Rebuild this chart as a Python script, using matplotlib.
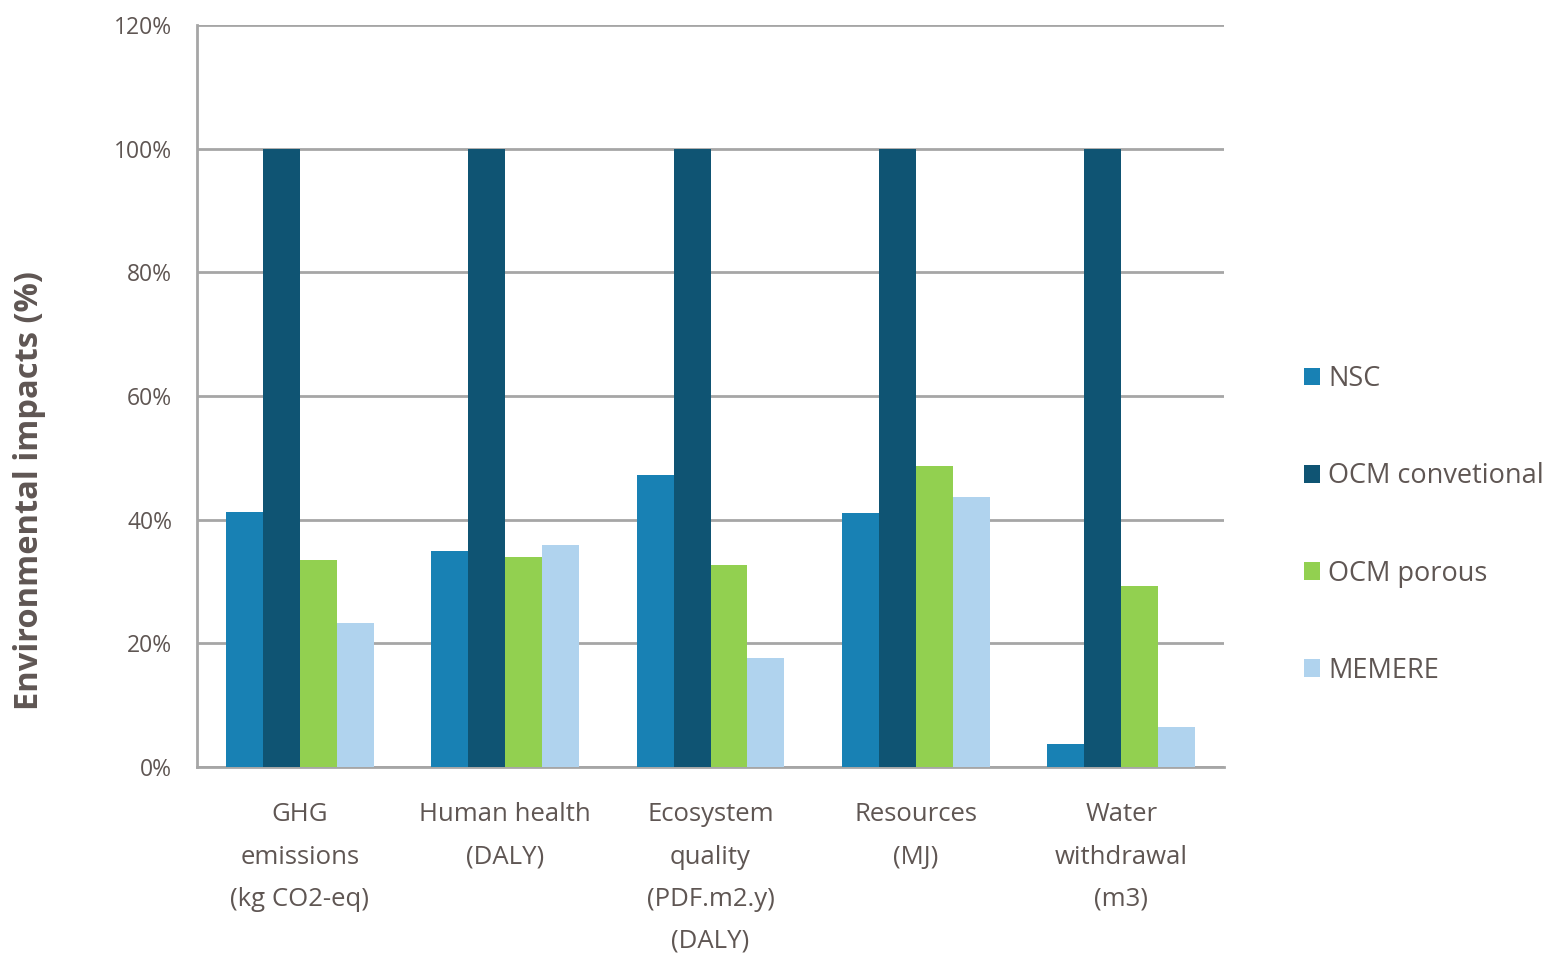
import numpy as np
import matplotlib.pyplot as plt
from matplotlib.ticker import FuncFormatter

categories = ["GHG\nemissions\n(kg CO2-eq)", "Human health\n(DALY)",
              "Ecosystem\nquality\n(PDF.m2.y)\n(DALY)", "Resources\n(MJ)",
              "Water\nwithdrawal\n(m3)"]
series = ["NSC", "OCM convetional", "OCM porous", "MEMERE"]
nsc = [41.3, 35.0, 47.2, 41.1, 3.7]
ocm_conv = [100, 100, 100, 100, 100]
ocm_porous = [33.5, 34.0, 32.7, 48.7, 29.3]
memere = [23.3, 35.9, 17.6, 43.7, 6.5]
colors = ["#1881b4", "#0f5473", "#92d050", "#b0d3ee"]

plt.rcParams['font.family'] = ['Open Sans', 'DejaVu Sans']
txt = "#5f5653"

fig = plt.figure(figsize=(15.47, 9.57), dpi=100)
ax = fig.add_axes([197/1547, 1 - 767/957, (1224-197)/1547, (767-25)/957])

x = np.arange(len(categories))
w = 0.18
for i, (vals, c, name) in enumerate(zip([nsc, ocm_conv, ocm_porous, memere], colors, series)):
    ax.bar(x + (i - 1.5) * w, vals, w, color=c, label=name, zorder=3)

ax.set_xlim(-0.5, len(categories) - 0.5)
ax.set_ylim(0, 120)
ax.set_yticks(np.arange(0, 121, 20))
ax.yaxis.set_major_formatter(FuncFormatter(lambda v, p: f"{v:.0f}%"))
ax.grid(axis='y', color="#a6a6a6", linewidth=2, zorder=0)
for s in ["top", "right"]:
    ax.spines[s].set_visible(False)
for s in ["left", "bottom"]:
    ax.spines[s].set_color("#a6a6a6")
    ax.spines[s].set_linewidth(2)
ax.tick_params(axis='both', length=0, colors=txt)
ax.tick_params(axis='y', pad=18, labelsize=16.5)
ax.tick_params(axis='x', pad=25.5, labelsize=18.5)
ax.set_xticks(x)
ax.set_xticklabels(categories, linespacing=1.9, va='top')

fig.text(30/1547, 1 - 491/957, "Environmental impacts (%)", rotation=90,
         fontsize=23.5, fontweight='bold', color=txt, ha='center', va='center')

leg = fig.legend(loc='center left', bbox_to_anchor=(1304/1547, 1 - 525/957), frameon=False,
                 fontsize=19.5, labelspacing=2.55, handlelength=0.6, handleheight=0.6,
                 handletextpad=0.3, borderpad=0, borderaxespad=0)
for t in leg.get_texts():
    t.set_color(txt)

fig.savefig("out.png", dpi=100)
